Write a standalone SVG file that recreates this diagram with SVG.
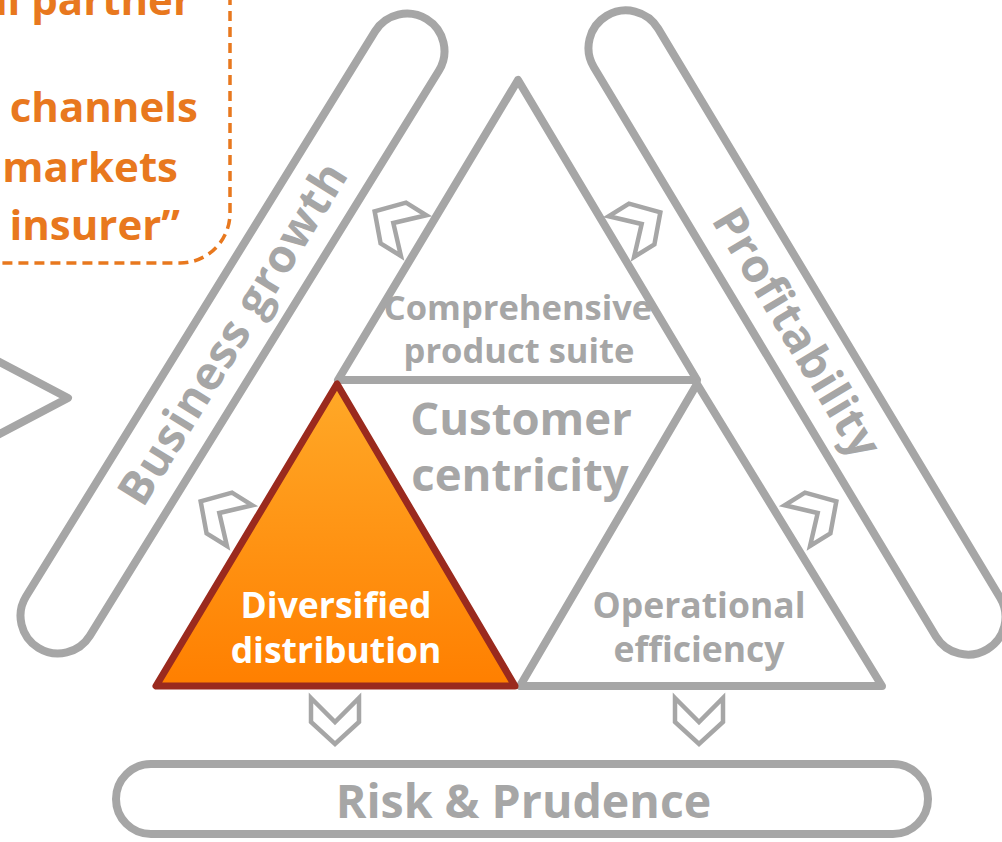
<svg xmlns="http://www.w3.org/2000/svg" width="1002" height="842" viewBox="0 0 1002 842">
  <style>
    .g { fill: none; stroke: #a6a6a6; stroke-width: 8; stroke-linejoin: round; stroke-linecap: round; }
    .chev { fill: #ffffff; stroke: #a6a6a6; stroke-width: 4.5; stroke-linejoin: miter; }
    .t { font-family: "Open Sans", "Liberation Sans", sans-serif; font-weight: 700; text-anchor: middle; }
    .gray { fill: #a6a6a6; }
    .white { fill: #ffffff; }
    .orange { fill: #e8781e; font-family: "Open Sans", "Liberation Sans", sans-serif; font-weight: 700; text-anchor: end; font-size: 42px; }
  </style>
  <defs>
    <linearGradient id="og" x1="0" y1="0" x2="0" y2="1">
      <stop offset="0" stop-color="#ffa928"/>
      <stop offset="1" stop-color="#ff7f00"/>
    </linearGradient>
    <path id="chevron" d="M-24,-22 L0,2 L24,-22 L24,2 L0,24 L-24,2 Z"/>
  </defs>
  <rect width="1002" height="842" fill="#ffffff"/>

  <!-- Quote box (partially visible) -->
  <g id="quote">
    <path d="M230,-5 V213 A50,50 0 0 1 180,263 H-5" fill="none" stroke="#e8781e" stroke-width="3.5" stroke-dasharray="10,6"/>
    <text class="orange" x="192" y="15">al partner</text>
    <text class="orange" x="198" y="122">channels</text>
    <text class="orange" x="178" y="182">markets</text>
    <text class="orange" x="180" y="240">insurer”</text>
  </g>

  <!-- Partial arrow on the left -->
  <g id="left-arrow">
    <polyline class="g" points="-6,359 68,398 -6,437"/>
  </g>

  <!-- Business growth pill -->
  <g id="business-growth" transform="translate(232.5,333.5) rotate(-58.3)">
    <rect class="g" x="-369.5" y="-37.5" width="739" height="75" rx="37.5"/>
    <text class="t gray" x="0" y="16" font-size="46" textLength="392">Business growth</text>
  </g>

  <!-- Profitability pill -->
  <g id="profitability" transform="translate(797,332.5) rotate(59)">
    <rect class="g" x="-369.5" y="-37.5" width="739" height="75" rx="37.5"/>
    <text class="t gray" x="0" y="16" font-size="46" textLength="282">Profitability</text>
  </g>

  <!-- Risk & Prudence pill -->
  <g id="risk-prudence">
    <rect class="g" x="116" y="764" width="812" height="70" rx="35"/>
    <text class="t gray" x="523.5" y="818" font-size="46.5">Risk &amp; Prudence</text>
  </g>

  <!-- Top triangle -->
  <g id="product-suite">
    <polygon class="g" points="518,80 338,380 697,380"/>
    <text class="t gray" x="518" y="320" font-size="34.5">Comprehensive</text>
    <text class="t gray" x="519" y="363" font-size="34.5">product suite</text>
  </g>

  <!-- Center label -->
  <g id="customer-centricity">
    <text class="t gray" x="521" y="435" font-size="45.5">Customer</text>
    <text class="t gray" x="520" y="491" font-size="45.5">centricity</text>
  </g>

  <!-- Bottom right triangle -->
  <g id="operational-efficiency">
    <polygon class="g" points="697,384 520,686 882,686"/>
    <text class="t gray" x="699" y="618" font-size="35.5">Operational</text>
    <text class="t gray" x="699" y="662" font-size="35.5">efficiency</text>
  </g>

  <!-- Highlighted bottom-left triangle -->
  <g id="diversified-distribution">
    <polygon points="337,384 156,686 515,686" fill="url(#og)" stroke="#9a2a1e" stroke-width="7" stroke-linejoin="round"/>
    <text class="t white" x="336" y="618" font-size="35.5">Diversified</text>
    <text class="t white" x="336" y="663" font-size="35.5">distribution</text>
  </g>

  <!-- Chevron connectors -->
  <g id="connectors">
    <use href="#chevron" class="chev" transform="translate(395,224) rotate(122)"/>
    <use href="#chevron" class="chev" transform="translate(640,225) rotate(-122)"/>
    <use href="#chevron" class="chev" transform="translate(221,514) rotate(122)"/>
    <use href="#chevron" class="chev" transform="translate(816,514) rotate(-122)"/>
    <use href="#chevron" class="chev" transform="translate(335,720)"/>
    <use href="#chevron" class="chev" transform="translate(699,720)"/>
  </g>
</svg>
